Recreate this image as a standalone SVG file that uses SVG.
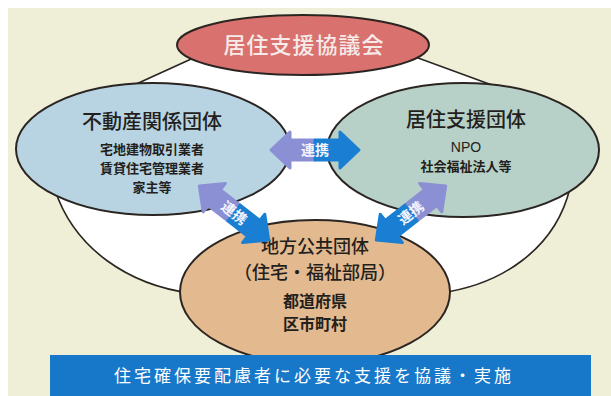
<svg xmlns="http://www.w3.org/2000/svg" width="611" height="396" viewBox="0 0 611 396">
<defs>
<style>
.t{font-family:"Noto Sans CJK JP","Noto Sans",sans-serif;text-anchor:middle;fill:#231f1c}
.ttl{font-size:20px;font-weight:500}
.sub{font-size:13px;font-weight:700}
.lbl{font-family:"Noto Sans CJK JP",sans-serif;font-size:14px;font-weight:700;fill:#f4f4ff;text-anchor:middle}
.ol{stroke:#2b2522;stroke-width:2}
.pu{fill:#8b90d4;stroke:#8b90d4;stroke-width:3;stroke-linejoin:round}
.bl{fill:#1a7fd2;stroke:#1a7fd2;stroke-width:3;stroke-linejoin:round}
</style>
<g id="arr">
<polygon class="pu" points="-44,0 -25,-18 -25,-10 0,-10 0,10 -25,10 -25,18"/>
<polygon class="bl" points="44,0 25,-18 25,-10 0,-10 0,10 25,10 25,18"/>
</g>
</defs>
<rect x="0" y="0" width="611" height="396" fill="#ffffff"/>
<rect x="8" y="8" width="603" height="388" fill="#efefd7"/>
<g id="back">
<path d="M200,55 L110,96 L60,150 L55,190 C75,250 130,285 190,293 L440,293 C500,285 555,250 570,188 L570,150 L500,88 L410,55 Z" fill="#ffffff" stroke="#2b2522" stroke-width="1.6"/>
</g>
<g id="council">
<ellipse class="ol" cx="303" cy="45" rx="126" ry="30" fill="#d9716f"/>
<text class="t" x="304" y="53" style="font-size:22px;font-weight:500;fill:#f6ebe8;letter-spacing:1px">居住支援協議会</text>
</g>
<g id="realestate">
<ellipse class="ol" cx="153" cy="149" rx="137" ry="66" fill="#b8d4e2"/>
<text class="t ttl" x="152" y="129">不動産関係団体</text>
<text class="t sub" x="152" y="154">宅地建物取引業者</text>
<text class="t sub" x="152" y="173">賃貸住宅管理業者</text>
<text class="t sub" x="152" y="192">家主等</text>
</g>
<g id="support">
<ellipse class="ol" cx="463" cy="150" rx="136" ry="67" fill="#b8d1c8"/>
<text class="t ttl" x="466" y="127">居住支援団体</text>
<text class="t" x="466" y="152" style="font-size:14px;font-family:'Liberation Sans',sans-serif">NPO</text>
<text class="t sub" x="466" y="171">社会福祉法人等</text>
</g>
<g id="local">
<ellipse class="ol" cx="315" cy="292" rx="135" ry="72" fill="#e3b98f"/>
<text class="t" x="315" y="253" style="font-size:18px;font-weight:500">地方公共団体</text>
<text class="t" x="315" y="279" style="font-size:18px;font-weight:500">（住宅・福祉部局）</text>
<text class="t" x="315" y="307" style="font-size:16px;font-weight:700">都道府県</text>
<text class="t" x="315" y="330" style="font-size:16px;font-weight:700">区市町村</text>
</g>
<g id="connectors">
<g transform="translate(315,150)">
<use href="#arr"/>
<text class="lbl" x="0" y="5">連携</text>
</g>
<g transform="translate(234,213) rotate(38)">
<use href="#arr"/>
<text class="lbl" x="0" y="5">連携</text>
</g>
<g transform="translate(411,213) rotate(-38) scale(-1,1)">
<use href="#arr"/>
</g>
<g transform="translate(411,213) rotate(-38)">
<text class="lbl" x="0" y="5">連携</text>
</g>
</g>
<g id="banner">
<rect x="50" y="355" width="541" height="41" fill="#1778c9"/>
<text x="314" y="382" style="font-family:'Noto Sans CJK JP',sans-serif;font-size:17px;fill:#ffffff;text-anchor:middle;letter-spacing:3px">住宅確保要配慮者に必要な支援を協議・実施</text>
</g>
</svg>
